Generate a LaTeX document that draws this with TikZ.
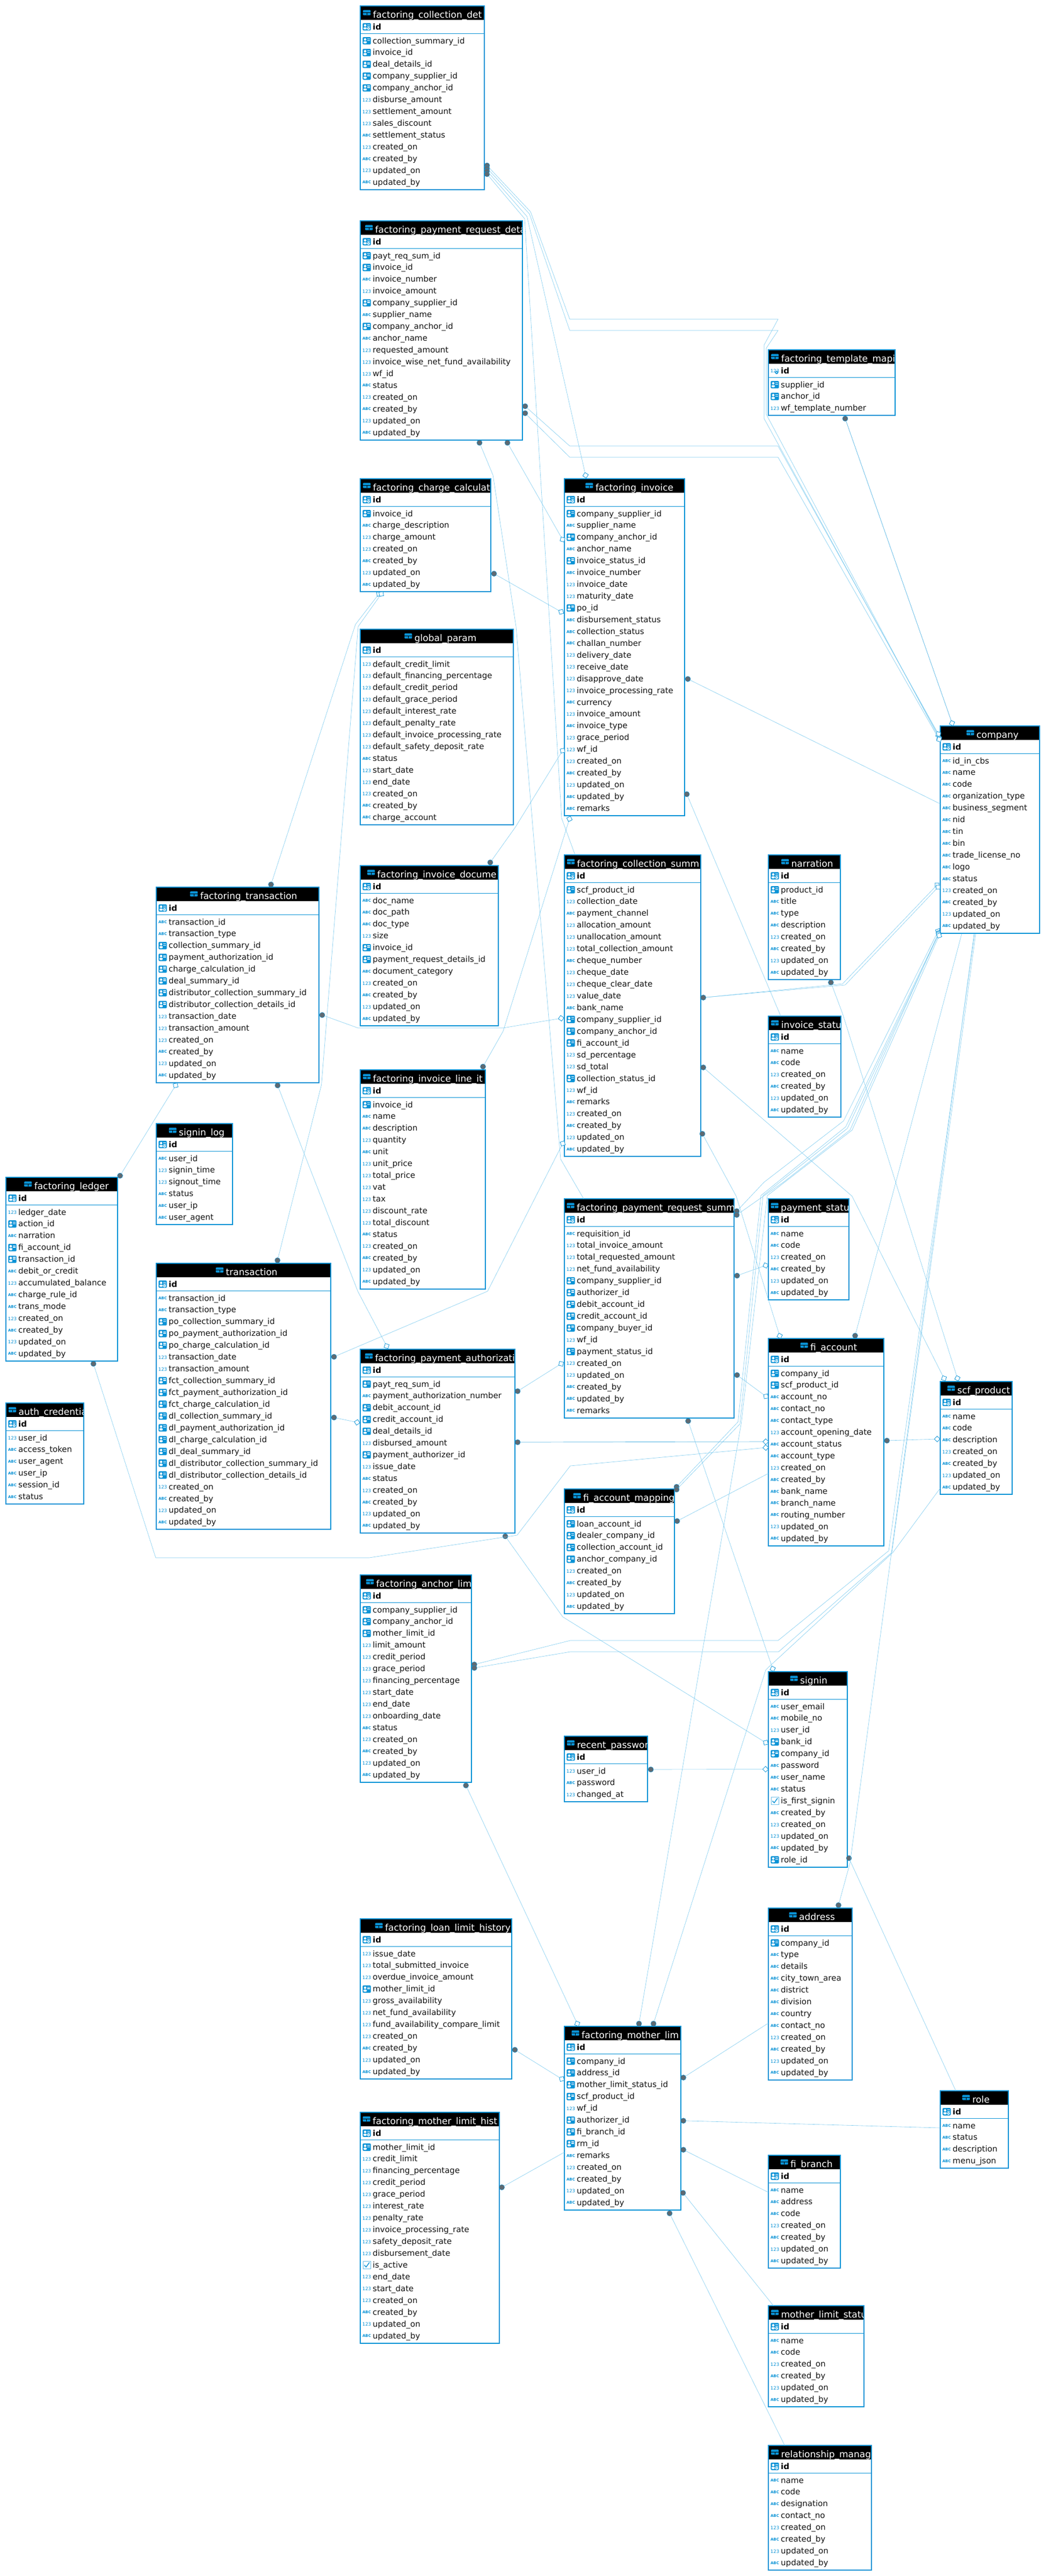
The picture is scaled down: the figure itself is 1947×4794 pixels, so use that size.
\documentclass[tikz,border=0pt]{standalone}
\usepackage{fontspec}
\setmainfont{DejaVu Sans}
\usetikzlibrary{shapes.geometric}
\catcode`\_=12
\definecolor{tbblue}{HTML}{0A93D6}
\definecolor{relblue}{HTML}{7CCAEE}
\definecolor{relgray}{HTML}{5F6A72}
\tikzset{
tablebox/.style={draw=tbblue, line width=2pt, fill=white, anchor=north west, inner sep=0pt, outer sep=0pt},
headbox/.style={fill=black, anchor=north west, inner sep=0pt, outer sep=0pt},
titletxt/.style={text=white, anchor=base west, inner sep=0pt, font=\fontsize{17}{17}\selectfont},
rowtxt/.style={text=black!92, anchor=base west, inner sep=0pt, font=\fontsize{15}{15}\selectfont},
idtxt/.style={text=black, anchor=base west, inner sep=0pt, font=\fontsize{15}{15}\selectfont\bfseries},
nutxt/.style={text=tbblue, anchor=base, inner sep=0pt, font=\fontsize{8.6}{9}\selectfont},
abtxt/.style={text=tbblue, anchor=base, inner sep=0pt, font=\fontsize{7}{8}\selectfont\bfseries},
tbline/.style={draw=tbblue, line width=0.9pt},
relline/.style={draw=relblue, line width=0.6pt},
relstrong/.style={draw=tbblue!70, line width=0.7pt},
reldot/.style={circle, fill=relgray, draw=tbblue, line width=0.5pt, minimum size=10pt, inner sep=0pt},
relmark/.style={diamond, fill=white, draw=tbblue, line width=0.8pt, minimum size=11pt, aspect=1, inner sep=0pt},
}
\newcommand{\rowiconfk}[3]{
\fill[tbblue, rounded corners=1.5pt] (#1+4.3,#2-12) rectangle (#1+19.7,#2+1.7);
\fill[white] (#1+9,#2-7.6) circle (2.3);
\fill[white, rounded corners=1.5pt] (#1+5.8,#2-4.2) rectangle (#1+12.2,#2-0.3);
\fill[white] (#1+13.3,#2-9.3) rectangle (#1+18.4,#2-8);
\fill[white] (#1+13.3,#2-6.4) rectangle (#1+18.4,#2-5.1);
}
\newcommand{\rowiconpk}[3]{
\rowiconfk{#1}{#2}{#3}
\fill[white] (#1+15.4,#2-1.9) circle (2.6);
\fill[tbblue] (#1+15.4,#2-1.9) circle (1);
}
\newcommand{\rowiconnupk}[3]{
\rowiconnu{#1}{#2}{#3}
\fill[tbblue] (#1+15.4,#2-1.9) circle (3);
\fill[white] (#1+15.4,#2-1.9) circle (1.2);
}
\newcommand{\rowiconnu}[3]{
\node[nutxt] (#3) at (#1+12,#2-1.4) {123};
}
\newcommand{\rowiconab}[3]{
\node[abtxt] (#3) at (#1+12,#2-2.4) {ABC};
}
\newcommand{\rowiconck}[3]{
\draw[tbblue!60, line width=0.8pt, fill=white] (#1+5,#2-12) rectangle (#1+19,#2+1.5);
\draw[tbblue, line width=1.4pt] (#1+7.5,#2-5) -- (#1+10.8,#2-1.5) -- (#1+17,#2-10);
}
\newcommand{\headicon}[2]{
\fill[tbblue, rounded corners=1.2pt] (#1-18.4,#2+7.6) rectangle (#1-4.4,#2+17.4);
\draw[black, line width=0.8pt] (#1-18.4,#2+12.5) -- (#1-4.4,#2+12.5);
\draw[black, line width=0.8pt] (#1-11.4,#2+12.5) -- (#1-11.4,#2+17.4);
}
\newcommand{\dbtable}[8][pk]{
\foreach \rk/\rt [count=\ri] in {#8} {\xdef\tbcnt{\ri}}
\pgfmathsetmacro\tbbot{#4+78.5+21.94*(\tbcnt-1)}
\pgfmathsetmacro\tbw{#5-#3}
\pgfmathsetmacro\tbh{\tbbot-#4}
\node[tablebox, minimum width=\tbw pt, minimum height=\tbh pt] (#2) at (#3,#4) {};
\node[headbox, minimum width=\tbw pt-2pt, minimum height=25pt] (#2-head) at (#3+1,#4+1) {};
\begin{scope}
\clip (#3+1,#4+1) rectangle (#5-1,#4+26);
\node[titletxt] (#2-title) at (#6,#4+22.4) {#7};
\headicon{#6}{#4}
\end{scope}
\csname rowicon#1\endcsname{#3}{#4+44}{#2-idic}
\node[idtxt] (#2-id) at (#3+23,#4+44) {id};
\draw[tbline] (#3,#4+51.3) -- (#5,#4+51.3);
\foreach \rk/\rt [count=\ri] in {#8} {
\pgfmathsetmacro\ry{#4+70+21.94*(\ri-1)}
\csname rowicon\rk\endcsname{#3}{\ry}{#2-ic\ri}
\node[rowtxt] (#2-r\ri) at (#3+23,\ry) {\rt};
}
}
\begin{document}
\begin{tikzpicture}[x=1pt,y=-1pt]
\useasboundingbox (0,0) rectangle (1947,4794);
\dbtable{tcolldet}{671}{11}{902}{694.5}{factoring_collection_det}{fk/collection_summary_id,fk/invoice_id,fk/deal_details_id,fk/company_supplier_id,fk/company_anchor_id,nu/disburse_amount,nu/settlement_amount,nu/sales_discount,ab/settlement_status,nu/created_on,ab/created_by,nu/updated_on,ab/updated_by}
\dbtable{treqdet}{671}{411}{973}{698.5}{factoring_payment_request_deta}{fk/payt_req_sum_id,fk/invoice_id,ab/invoice_number,nu/invoice_amount,fk/company_supplier_id,ab/supplier_name,fk/company_anchor_id,ab/anchor_name,nu/requested_amount,nu/invoice_wise_net_fund_availability,nu/wf_id,ab/status,nu/created_on,ab/created_by,nu/updated_on,ab/updated_by}
\dbtable{tcharge}{671}{891}{914}{694.5}{factoring_charge_calculat}{fk/invoice_id,ab/charge_description,nu/charge_amount,nu/created_on,ab/created_by,nu/updated_on,ab/updated_by}
\dbtable{tglobal}{671}{1171}{956}{771.7}{global_param}{nu/default_credit_limit,nu/default_financing_percentage,nu/default_credit_period,nu/default_grace_period,nu/default_interest_rate,nu/default_penalty_rate,nu/default_invoice_processing_rate,nu/default_safety_deposit_rate,ab/status,nu/start_date,nu/end_date,nu/created_on,ab/created_by,ab/charge_account}
\dbtable{tinvoice}{1051}{891}{1275}{1108.8}{factoring_invoice}{fk/company_supplier_id,ab/supplier_name,fk/company_anchor_id,ab/anchor_name,fk/invoice_status_id,ab/invoice_number,nu/invoice_date,nu/maturity_date,fk/po_id,ab/disbursement_status,ab/collection_status,ab/challan_number,nu/delivery_date,nu/receive_date,nu/disapprove_date,nu/invoice_processing_rate,ab/currency,nu/invoice_amount,ab/invoice_type,nu/grace_period,nu/wf_id,nu/created_on,ab/created_by,nu/updated_on,ab/updated_by,ab/remarks}
\dbtable{tdocume}{671}{1611}{928}{702.5}{factoring_invoice_docume}{ab/doc_name,ab/doc_path,ab/doc_type,nu/size,fk/invoice_id,fk/payment_request_details_id,ab/document_category,nu/created_on,ab/created_by,nu/updated_on,ab/updated_by}
\dbtable{tcollsum}{1051}{1591}{1305}{1074.5}{factoring_collection_summ}{fk/scf_product_id,nu/collection_date,ab/payment_channel,nu/allocation_amount,nu/unallocation_amount,nu/total_collection_amount,ab/cheque_number,nu/cheque_date,nu/cheque_clear_date,nu/value_date,ab/bank_name,fk/company_supplier_id,fk/company_anchor_id,fk/fi_account_id,nu/sd_percentage,nu/sd_total,fk/collection_status_id,nu/wf_id,ab/remarks,nu/created_on,ab/created_by,nu/updated_on,ab/updated_by}
\dbtable{tnarration}{1431}{1591}{1565}{1473.5}{narration}{fk/product_id,ab/title,ab/type,ab/description,nu/created_on,ab/created_by,nu/updated_on,ab/updated_by}
\dbtable{tcompany}{1751}{1351}{1936}{1818.4}{company}{ab/id_in_cbs,ab/name,ab/code,ab/organization_type,ab/business_segment,ab/nid,ab/tin,ab/bin,ab/trade_license_no,ab/logo,ab/status,nu/created_on,ab/created_by,nu/updated_on,ab/updated_by}
\dbtable[nupk]{ttemplate}{1431}{651}{1667}{1454.6}{factoring_template_mapi}{fk/supplier_id,fk/anchor_id,nu/wf_template_number}
\dbtable{tinvstat}{1431}{1891}{1566}{1454.6}{invoice_statu}{ab/name,ab/code,nu/created_on,ab/created_by,nu/updated_on,ab/updated_by}
\dbtable{tpaystat}{1431}{2231}{1581}{1454}{payment_statu}{ab/name,ab/code,nu/created_on,ab/created_by,nu/updated_on,ab/updated_by}
\dbtable{treqsum}{1051}{2231}{1367}{1074}{factoring_payment_request_summ}{ab/requisition_id,nu/total_invoice_amount,nu/total_requested_amount,nu/net_fund_availability,fk/company_supplier_id,fk/authorizer_id,fk/debit_account_id,fk/credit_account_id,fk/company_buyer_id,nu/wf_id,fk/payment_status_id,nu/created_on,nu/updated_on,ab/created_by,ab/updated_by,ab/remarks}
\dbtable{tfiacc}{1431}{2491}{1646}{1509}{fi_account}{fk/company_id,fk/scf_product_id,ab/account_no,ab/contact_no,ab/contact_type,nu/account_opening_date,ab/account_status,ab/account_type,nu/created_on,ab/created_by,ab/bank_name,ab/branch_name,ab/routing_number,nu/updated_on,ab/updated_by}
\dbtable{tscf}{1751}{2571}{1885}{1782.7}{scf_product}{ab/name,ab/code,ab/description,nu/created_on,ab/created_by,nu/updated_on,ab/updated_by}
\dbtable{tmapping}{1051}{2771}{1255.5}{1086}{fi_account_mapping}{fk/loan_account_id,fk/dealer_company_id,fk/collection_account_id,fk/anchor_company_id,nu/created_on,ab/created_by,nu/updated_on,ab/updated_by}
\dbtable{tfactrans}{291}{1651}{594}{372.6}{factoring_transaction}{ab/transaction_id,ab/transaction_type,fk/collection_summary_id,fk/payment_authorization_id,fk/charge_calculation_id,fk/deal_summary_id,fk/distributor_collection_summary_id,fk/distributor_collection_details_id,nu/transaction_date,nu/transaction_amount,nu/created_on,ab/created_by,nu/updated_on,ab/updated_by}
\dbtable{tsigninlog}{291}{2091}{433}{333}{signin_log}{ab/user_id,nu/signin_time,nu/signout_time,ab/status,ab/user_ip,ab/user_agent}
\dbtable{tledger}{11}{2191}{219}{63.6}{factoring_ledger}{nu/ledger_date,fk/action_id,ab/narration,fk/fi_account_id,fk/transaction_id,ab/debit_or_credit,nu/accumulated_balance,ab/charge_rule_id,ab/trans_mode,nu/created_on,ab/created_by,nu/updated_on,ab/updated_by}
\dbtable{tauth}{11}{2611}{156}{34.4}{auth_credentia}{nu/user_id,ab/access_token,ab/user_agent,ab/user_ip,ab/session_id,ab/status}
\dbtable{ttrans}{291}{2351}{616}{420.5}{transaction}{ab/transaction_id,ab/transaction_type,fk/po_collection_summary_id,fk/po_payment_authorization_id,fk/po_charge_calculation_id,nu/transaction_date,nu/transaction_amount,fk/fct_collection_summary_id,fk/fct_payment_authorization_id,fk/fct_charge_calculation_id,fk/dl_collection_summary_id,fk/dl_payment_authorization_id,fk/dl_charge_calculation_id,fk/dl_deal_summary_id,fk/dl_distributor_collection_summary_id,fk/dl_distributor_collection_details_id,nu/created_on,ab/created_by,nu/updated_on,ab/updated_by}
\dbtable{tline}{671}{1991}{904}{694.4}{factoring_invoice_line_it}{fk/invoice_id,ab/name,ab/description,nu/quantity,ab/unit,nu/unit_price,nu/total_price,nu/vat,nu/tax,nu/discount_rate,nu/total_discount,ab/status,nu/created_on,ab/created_by,nu/updated_on,ab/updated_by}
\dbtable{tpayauth}{671}{2511}{958.5}{698.3}{factoring_payment_authorizati}{fk/payt_req_sum_id,ab/payment_authorization_number,fk/debit_account_id,fk/credit_account_id,fk/deal_details_id,nu/disbursed_amount,fk/payment_authorizer_id,nu/issue_date,ab/status,nu/created_on,ab/created_by,nu/updated_on,ab/updated_by}
\dbtable{tanchor}{671}{2931}{878}{700.3}{factoring_anchor_lim}{fk/company_supplier_id,fk/company_anchor_id,fk/mother_limit_id,nu/limit_amount,nu/credit_period,nu/grace_period,nu/financing_percentage,nu/start_date,nu/end_date,nu/onboarding_date,ab/status,nu/created_on,ab/created_by,nu/updated_on,ab/updated_by}
\dbtable{trecent}{1051}{3231}{1206}{1074.3}{recent_passwor}{nu/user_id,ab/password,nu/changed_at}
\dbtable{tsignin}{1431}{3111}{1577.5}{1490}{signin}{ab/user_email,ab/mobile_no,nu/user_id,fk/bank_id,fk/company_id,ab/password,ab/user_name,ab/status,ck/is_first_signin,ab/created_by,nu/created_on,nu/updated_on,ab/updated_by,fk/role_id}
\dbtable{taddress}{1431}{3551}{1587}{1488}{address}{fk/company_id,ab/type,ab/details,ab/city_town_area,ab/district,ab/division,ab/country,ab/contact_no,nu/created_on,ab/created_by,nu/updated_on,ab/updated_by}
\dbtable{tloan}{671}{3571}{953}{717}{factoring_loan_limit_history}{nu/issue_date,nu/total_submitted_invoice,nu/overdue_invoice_amount,fk/mother_limit_id,nu/gross_availability,nu/net_fund_availability,nu/fund_availability_compare_limit,nu/created_on,ab/created_by,nu/updated_on,ab/updated_by}
\dbtable{tmother}{1051}{3771}{1267.5}{1083}{factoring_mother_lim}{fk/company_id,fk/address_id,fk/mother_limit_status_id,fk/scf_product_id,nu/wf_id,fk/authorizer_id,fk/fi_branch_id,fk/rm_id,ab/remarks,nu/created_on,ab/created_by,nu/updated_on,ab/updated_by}
\dbtable{thist}{671}{3931}{929.5}{694}{factoring_mother_limit_hist}{fk/mother_limit_id,nu/credit_limit,nu/financing_percentage,nu/credit_period,nu/grace_period,nu/interest_rate,nu/penalty_rate,nu/invoice_processing_rate,nu/safety_deposit_rate,nu/disbursement_date,ck/is_active,nu/end_date,nu/start_date,nu/created_on,ab/created_by,nu/updated_on,ab/updated_by}
\dbtable{tbranch}{1431}{4011}{1565}{1472}{fi_branch}{ab/name,ab/address,ab/code,nu/created_on,ab/created_by,nu/updated_on,ab/updated_by}
\dbtable{tmlstatus}{1431}{4291}{1609}{1454.4}{mother_limit_statu}{ab/name,ab/code,nu/created_on,ab/created_by,nu/updated_on,ab/updated_by}
\dbtable{trm}{1431}{4551}{1623}{1454.4}{relationship_manag}{ab/name,ab/code,ab/designation,ab/contact_no,nu/created_on,ab/created_by,nu/updated_on,ab/updated_by}
\dbtable{trole}{1751}{3891}{1878}{1810.6}{role}{ab/name,ab/status,ab/description,ab/menu_json}
\node[reldot] (dot1) at (907,308){};
\node[reldot] (dot2) at (907,313){};
\node[reldot] (dot3) at (907,318){};
\node[reldot] (dot4) at (907,324){};
\node[reldot] (dot5) at (978,756){};
\node[reldot] (dot6) at (978,769){};
\node[reldot] (dot7) at (893,824){};
\node[reldot] (dot8) at (945,824){};
\node[reldot] (dot9) at (920,1067.6){};
\node[reldot] (dot10) at (504.7,1646){};
\node[reldot] (dot11) at (516.8,2345.5){};
\node[reldot] (dot12) at (1281,1263.6){};
\node[reldot] (dot13) at (1279,1478){};
\node[reldot] (dot14) at (913,1605){};
\node[reldot] (dot15) at (899.5,1985){};
\node[reldot] (dot16) at (600,1889){};
\node[reldot] (dot17) at (517,2020){};
\node[reldot] (dot18) at (223.6,2188){};
\node[reldot] (dot19) at (174,2538){};
\node[reldot] (dot20) at (622,2525){};
\node[reldot] (dot21) at (622,2638){};
\node[reldot] (dot22) at (964,2589){};
\node[reldot] (dot23) at (964,2684){};
\node[reldot] (dot24) at (941,2859){};
\node[reldot] (dot25) at (883.3,3097.6){};
\node[reldot] (dot26) at (883.3,3104){};
\node[reldot] (dot27) at (1309.7,1856.5){};
\node[reldot] (dot29) at (1309.7,1986.5){};
\node[reldot] (dot30) at (1308,2110){};
\node[reldot] (dot31) at (1372,2254){};
\node[reldot] (dot32) at (1372,2261){};
\node[reldot] (dot33) at (1260,2767){};
\node[reldot] (dot34) at (1260,2772){};
\node[reldot] (dot35) at (1190,3766){};
\node[reldot] (dot36) at (1372.6,2374){};
\node[reldot] (dot37) at (1372.6,2559){};
\node[reldot] (dot38) at (1281.5,2644.5){};
\node[reldot] (dot39) at (1261,2830.7){};
\node[reldot] (dot40) at (1651.7,2681){};
\node[reldot] (dot41) at (1592.5,2485.7){};
\node[reldot] (dot42) at (1547.4,1828.4){};
\node[reldot] (dot43) at (1217,3766){};
\node[reldot] (dot44) at (1561.5,3545.5){};
\node[reldot] (dot45) at (1581,3458){};
\node[reldot] (dot46) at (1574,779){};
\node[reldot] (dot47) at (1272.6,3866.4){};
\node[reldot] (dot48) at (1272.6,3946.7){};
\node[reldot] (dot49) at (1272.6,4000.7){};
\node[reldot] (dot50) at (1272,4081){};
\node[reldot] (dot51) at (1247,4119){};
\node[reldot] (dot52) at (958.9,3814.7){};
\node[reldot] (dot53) at (934.6,4070.6){};
\node[reldot] (dot54) at (867.7,3322.7){};
\node[reldot] (dot55) at (1212,3293){};
\node[relmark, rotate=-61] (mark1) at (1747.5,1368){};
\node[relmark, rotate=-61] (mark2) at (1749,1374){};
\node[relmark, rotate=-77] (mark3) at (1090.5,884.5){};
\node[relmark, rotate=-61] (mark5) at (1747.5,1366){};
\node[relmark, rotate=-61] (mark6) at (1749,1376){};
\node[relmark, rotate=-60] (mark8) at (1047.6,1004){};
\node[relmark, rotate=-30] (mark9) at (1045,1138.6){};
\node[relmark, rotate=53] (mark10) at (705.6,1105.4){};
\node[relmark, rotate=55] (mark11) at (710,1105.4){};
\node[relmark, rotate=58] (mark14) at (1047.6,1397){};
\node[relmark, rotate=72] (mark15) at (1060.5,1524){};
\node[relmark, rotate=10] (mark16) at (1045,1895){};
\node[relmark, rotate=-62] (mark17) at (720,2505){};
\node[relmark, rotate=58] (mark18) at (327,2020){};
\node[relmark, rotate=5] (mark19) at (1426,2694){};
\node[relmark, rotate=63] (mark20) at (1048,2128){};
\node[relmark, rotate=-12] (mark21) at (665,2647){};
\node[relmark, rotate=32] (mark22) at (1045,2538){};
\node[relmark] (mark23) at (1426,2683){};
\node[relmark, rotate=-32] (mark24) at (1426,3243){};
\node[relmark, rotate=46] (mark27) at (1745,1647){};
\node[relmark, rotate=46] (mark28) at (1747,1651){};
\node[relmark, rotate=-63] (mark29) at (1758,2565){};
\node[relmark, rotate=-73] (mark30) at (1452,2486){};
\node[relmark, rotate=63] (mark31) at (1747,1733){};
\node[relmark, rotate=63] (mark32) at (1748,1736){};
\node[relmark, rotate=63] (mark33) at (1748,1737){};
\node[relmark, rotate=63] (mark34) at (1748,1739){};
\node[relmark, rotate=63] (mark35) at (1749,1741){};
\node[relmark, rotate=20] (mark36) at (1425.8,2355){};
\node[relmark, rotate=-36] (mark37) at (1426.4,2598.6){};
\node[relmark, rotate=-72] (mark38) at (1439,3105.6){};
\node[relmark, rotate=2] (mark40) at (1745.3,2678){};
\node[relmark, rotate=-72] (mark42) at (1783,2565){};
\node[relmark, rotate=-70] (mark46) at (1773,1345.7){};
\node[relmark, rotate=-32] (mark52) at (1046.3,3869){};
\node[relmark, rotate=-65] (mark54) at (1075,3766){};
\node[relmark] (mark55) at (1425.7,3292.5){};
\coordinate (end4) at (1071,1591);
\coordinate (end7) at (1087,2231);
\coordinate (end12) at (1751,1496);
\coordinate (end13) at (1454,1891);
\coordinate (end25) at (1815,1738);
\coordinate (end26) at (1817,1738);
\coordinate (end39) at (1431,2742);
\coordinate (end41) at (1791,1738);
\coordinate (end43) at (1751,2769.5);
\coordinate (end44) at (1814,1738);
\coordinate (end45) at (1780,3891);
\coordinate (end47) at (1431,3765);
\coordinate (end48) at (1751,3960);
\coordinate (end49) at (1431,4080);
\coordinate (end50) at (1440.4,4291);
\coordinate (end51) at (1461.4,4551);
\coordinate (end53) at (1051,4005.3);
\draw[relline](dot1) -- (988,394) -- (1061,594) -- (1449,594) -- (1423,642) -- (1423,779) -- (mark1);
\draw[relline](dot2) -- (986,398) -- (1061,615) -- (1449,615) -- (1427,648) -- (1427,771) -- (mark2);
\draw[relline](dot3) -- (981.5,403) -- (mark3);
\draw[relline](dot4) -- (977,407) -- (1046,1523) -- (end4);
\draw[relline](dot5) -- (1061,830) -- (1449,830) -- (mark5);
\draw[relline](dot6) -- (1061,851) -- (1449,851) -- (mark6);
\draw[relline](dot7) -- (918,884) -- (961,1166) -- (1044,2157) -- (end7);
\draw[relline](dot8) -- (mark8);
\draw[relline](dot9) -- (mark9);
\draw[relline](mark10) -- (662,1162) -- (dot10);
\draw[relline](mark11) -- (667,1166) -- (598.6,2019) -- (dot11);
\draw[relline](dot12) -- (end12);
\draw[relline](dot13) -- (end13);
\draw[relline](dot14) -- (960,1539) -- (mark14);
\draw[relline](dot15) -- (937,1919) -- (mark15);
\draw[relline](dot16) -- (666.5,1913) -- (937,1913) -- (mark16);
\draw[relline](dot17) -- (666.5,2403.5) -- (mark17);
\draw[relline](mark18) -- (dot18);
\draw[relline](dot19) -- (290,2899) -- (687.5,2899) -- (963,2857) -- (1062,2728) -- (mark19);
\draw[relline](dot20) -- (908,2403) -- (mark20);
\draw[relline](dot21) -- (mark21);
\draw[relline](dot22) -- (mark22);
\draw[relstrong](dot23) -- (mark23);
\draw[relline](dot24) -- (1048,3009) -- (mark24);
\draw[relline](dot25) -- (1062,3053) -- (1449,3053) -- (1655,2886) -- (end25);
\draw[relline](dot26) -- (1062,3074) -- (1450,3074) -- (1661,2889) -- (end26);
\draw[relline](dot27) -- (1569,1831) -- (mark27);
\draw[relline](dot27) -- (1574,1833) -- (mark28);
\draw[relline](dot29) -- (1586.7,2226) -- (mark29);
\draw[relline](dot30) -- (1371,2226) -- (mark30);
\draw[relline](dot31) -- (1423,2200) -- (1571,2086) -- (mark31);
\draw[relline](dot32) -- (1459,2200) -- (1583,2103) -- (mark32);
\draw[relline](dot33) -- (1374.5,2646) -- (1417,2225) -- (1575,2097) -- (mark33);
\draw[relline](dot34) -- (1378,2650) -- (1421,2225) -- (1578,2100) -- (mark34);
\draw[relline](dot35) -- (1380.5,2648) -- (1429,2225) -- (1587,2103) -- (mark35);
\draw[relline](dot36) -- (mark36);
\draw[relline](dot37) -- (mark37);
\draw[relline](dot38) -- (mark38);
\draw[relline](dot39) -- (end39);
\draw[relline](dot40) -- (mark40);
\draw[relline](dot41) -- (end41);
\draw[relline](dot42) -- (1569,1886) -- (mark42);
\draw[relline](dot43) -- (1426,3108) -- (1432,3102) -- (1663,2889) -- (end43);
\draw[relline](dot44) -- (1583,3467) -- (end44);
\draw[relline](dot45) -- (end45);
\draw[relstrong](dot46) -- (mark46);
\draw[relline](dot47) -- (end47);
\draw[relline](dot48) -- (end48);
\draw[relline](dot49) -- (end49);
\draw[relline](dot50) -- (end50);
\draw[relline](dot51) -- (end51);
\draw[relline](dot52) -- (mark52);
\draw[relline](dot53) -- (end53);
\draw[relline](mark54) -- (dot54);
\draw[relline](dot55) -- (mark55);
\end{tikzpicture}
\end{document}
